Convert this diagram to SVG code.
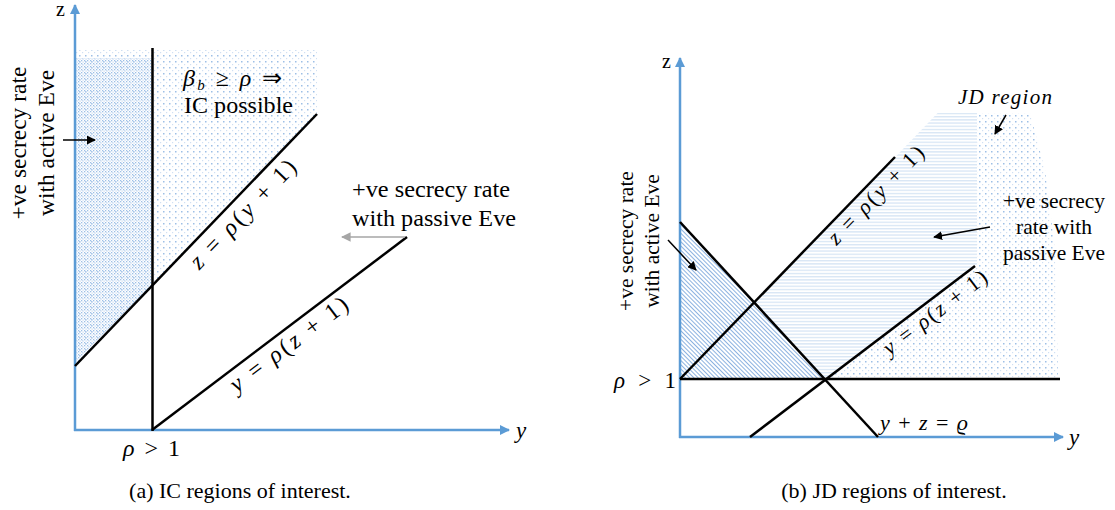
<svg xmlns="http://www.w3.org/2000/svg" width="1115" height="510" viewBox="0 0 1115 510">
<defs>
<style>
.ax{stroke:#5b9bd5;stroke-width:2.5;fill:none}
.ln{stroke:#000;stroke-width:2.5;fill:none}
.t{font-family:"Liberation Serif","Times New Roman",serif;fill:#000}
.it{font-style:italic}
.arr{stroke:#000;stroke-width:1.5;fill:none;marker-end:url(#ah)}
</style>
<marker id="axh" viewBox="0 0 10 10" refX="9" refY="5" markerWidth="4" markerHeight="4" orient="auto" markerUnits="strokeWidth"><path d="M0,0 L10,5 L0,10 z" fill="#5b9bd5"/></marker>
<marker id="ah" viewBox="0 0 10 10" refX="9" refY="5" markerWidth="6" markerHeight="6" orient="auto" markerUnits="strokeWidth"><path d="M0,0 L10,5 L0,10 z" fill="#000"/></marker>
<marker id="gh" viewBox="0 0 10 10" refX="9" refY="5" markerWidth="6" markerHeight="6" orient="auto" markerUnits="strokeWidth"><path d="M0,0 L10,5 L0,10 z" fill="#a6a6a6"/></marker>
<pattern id="dense" width="3" height="3" patternUnits="userSpaceOnUse"><rect x="0" y="0" width="1.3" height="1.3" fill="#9dbfe6"/><rect x="1.5" y="1.5" width="1.2" height="1.2" fill="#c3d7ef"/></pattern>
<pattern id="sparse" width="6" height="6" patternUnits="userSpaceOnUse"><rect x="1" y="1" width="1.5" height="1.5" fill="#9dbfe6"/><rect x="4" y="4" width="1.2" height="1.2" fill="#d0e0f3"/></pattern>
<pattern id="hatch" width="3" height="3" patternUnits="userSpaceOnUse" patternTransform="rotate(45)"><line x1="0" y1="1.5" x2="3" y2="1.5" stroke="#7fa9dc" stroke-width="0.9"/></pattern>
<pattern id="hstripe" width="4" height="3.2" patternUnits="userSpaceOnUse"><line x1="0" y1="1.5" x2="4" y2="1.5" stroke="#cfe0f3" stroke-width="1.1"/></pattern>
</defs>

<!-- Panel (a) -->
<g id="a-regions">
<polygon points="76,50 317,50 317,114 76,366" fill="url(#sparse)"/>
<polygon points="76,58 152,58 152,285 76,365" fill="url(#dense)"/>
</g>
<g id="a-axes">
<line class="ax" x1="75" y1="431" x2="75" y2="5" marker-end="url(#axh)"/>
<line class="ax" x1="74" y1="430" x2="509" y2="430" marker-end="url(#axh)"/>
<text class="t" x="56" y="16" font-size="20">z</text>
<text class="t it" x="516" y="438" font-size="23">y</text>
</g>
<g id="a-lines">
<line class="ln" x1="152.5" y1="48" x2="152.5" y2="431"/>
<line class="ln" x1="75" y1="366" x2="317" y2="114"/>
<line class="ln" x1="152" y1="430" x2="407" y2="237"/>
</g>
<g id="a-labels">
<text class="t" font-size="24" x="183" y="86" textLength="99" lengthAdjust="spacing"><tspan class="it">β</tspan><tspan class="it" font-size="15" dy="4">b</tspan><tspan dy="-4"> ≥ </tspan><tspan class="it">ρ</tspan> ⇒</text>
<text class="t" font-size="23" x="184" y="113" textLength="109" lengthAdjust="spacingAndGlyphs">IC possible</text>
<text class="t" font-size="24" text-anchor="middle" textLength="142" lengthAdjust="spacing" transform="translate(248.5,219.5) rotate(-46)"><tspan class="it">z</tspan> = <tspan class="it">ρ</tspan>(<tspan class="it">y</tspan> + 1)</text>
<text class="t" font-size="24" text-anchor="middle" textLength="142" lengthAdjust="spacing" transform="translate(293.5,350.5) rotate(-37.1)"><tspan class="it">y</tspan> = <tspan class="it">ρ</tspan>(<tspan class="it">z</tspan> + 1)</text>
<text class="t" font-size="24" x="123" y="456" textLength="57" lengthAdjust="spacing"><tspan class="it">ρ</tspan> &gt; 1</text>
<text class="t" font-size="23.5" text-anchor="middle" transform="translate(26,143) rotate(-90)">+ve secrecy rate</text>
<text class="t" font-size="23.5" text-anchor="middle" transform="translate(54,143) rotate(-90)">with active Eve</text>
<text class="t" font-size="23.5" x="352" y="197" textLength="158" lengthAdjust="spacingAndGlyphs">+ve secrecy rate</text>
<text class="t" font-size="23.5" x="352" y="226" textLength="164" lengthAdjust="spacingAndGlyphs">with passive Eve</text>
</g>
<g id="a-connectors">
<line class="arr" x1="63" y1="140" x2="95" y2="140"/>
<line x1="405" y1="237" x2="342" y2="237" stroke="#a6a6a6" stroke-width="1.6" marker-end="url(#gh)"/>
</g>
<text class="t" font-size="22" text-anchor="middle" x="240" y="498">(a) IC regions of interest.</text>

<!-- Panel (b) -->
<g id="b-regions">
<polygon points="755,303 826,379 977,264.5 977,113 937.6,113" fill="url(#hstripe)"/>
<polygon points="826,379 977,264.5 977,113 1030,113 1045,170 1055,250 1058,379" fill="url(#sparse)"/>
<polygon points="681,222 826,379 681,379" fill="url(#hatch)"/>
</g>
<g id="b-axes">
<line class="ax" x1="680" y1="438" x2="680" y2="58" marker-end="url(#axh)"/>
<line class="ax" x1="679" y1="437" x2="1063" y2="437" marker-end="url(#axh)"/>
<text class="t" x="662" y="68" font-size="20">z</text>
<text class="t it" x="1069" y="445" font-size="23">y</text>
</g>
<g id="b-lines">
<line class="ln" x1="680" y1="379" x2="1060" y2="379"/>
<line class="ln" x1="680" y1="222" x2="878" y2="437"/>
<line class="ln" x1="680" y1="379" x2="895" y2="157"/>
<line class="ln" x1="750" y1="437" x2="975" y2="266"/>
</g>
<g id="b-labels">
<text class="t" font-size="23" x="614" y="388" textLength="62" lengthAdjust="spacing"><tspan class="it">ρ</tspan> &gt; 1</text>
<text class="t" font-size="22" x="880" y="430" textLength="88" lengthAdjust="spacing"><tspan class="it">y</tspan> + <tspan class="it">z</tspan> = <tspan class="it">ϱ</tspan></text>
<text class="t" font-size="22" text-anchor="middle" textLength="128" lengthAdjust="spacing" transform="translate(881,200) rotate(-45.9)"><tspan class="it">z</tspan> = <tspan class="it">ρ</tspan>(<tspan class="it">y</tspan> + 1)</text>
<text class="t" font-size="22" text-anchor="middle" textLength="125" lengthAdjust="spacing" transform="translate(939.4,318.1) rotate(-37.2)"><tspan class="it">y</tspan> = <tspan class="it">ρ</tspan>(<tspan class="it">z</tspan> + 1)</text>
<text class="t it" font-size="21" x="958" y="104" textLength="94" lengthAdjust="spacing">JD region</text>
<text class="t" font-size="21.5" text-anchor="middle" x="1054" y="208">+ve secrecy</text>
<text class="t" font-size="21.5" text-anchor="middle" x="1054" y="234">rate with</text>
<text class="t" font-size="21.5" text-anchor="middle" x="1054" y="260">passive Eve</text>
<text class="t" font-size="21.5" text-anchor="middle" transform="translate(633,241) rotate(-90)">+ve secrecy rate</text>
<text class="t" font-size="21.5" text-anchor="middle" transform="translate(659,241) rotate(-90)">with active Eve</text>
</g>
<g id="b-connectors">
<line class="arr" x1="1006" y1="115" x2="995" y2="134"/>
<line class="arr" x1="990" y1="227" x2="934" y2="237"/>
<line class="arr" x1="668" y1="240" x2="696" y2="270"/>
</g>
<text class="t" font-size="22" text-anchor="middle" x="894" y="498">(b) JD regions of interest.</text>
</svg>
